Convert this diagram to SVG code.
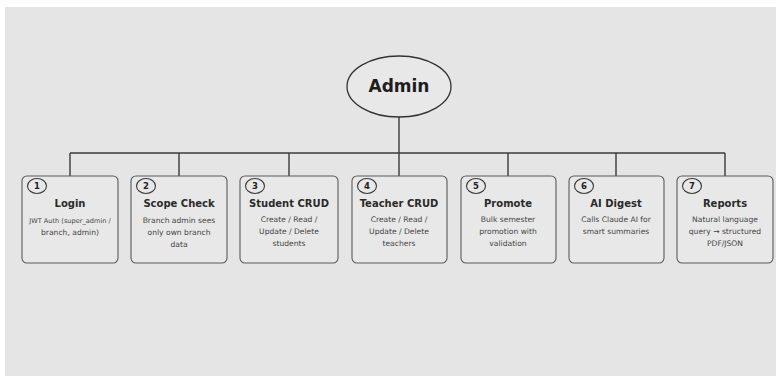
<svg xmlns="http://www.w3.org/2000/svg" width="776" height="376" viewBox="0 0 776 376">
<style>
.bg{fill:#e5e5e5}
.line{stroke:#3a3a3a;stroke-width:1.4;fill:none}
.box{fill:#e8e8e8;stroke:#5a5a5a;stroke-width:1.1}
.num{fill:none;stroke:#3a3a3a;stroke-width:1.1}
.numt{font-family:"DejaVu Sans",sans-serif;font-weight:bold;font-size:8.5px;fill:#222;text-anchor:middle;dominant-baseline:central}
.title{font-family:"DejaVu Sans",sans-serif;font-weight:bold;font-size:10px;fill:#2a2a2a;text-anchor:middle;dominant-baseline:central}
.body{font-family:"DejaVu Sans",sans-serif;font-size:7.6px;fill:#444;text-anchor:middle;dominant-baseline:central}
.small{font-size:6.6px}
</style>
<rect x="0" y="0" width="776" height="376" fill="#ffffff"/>
<rect class="bg" x="5" y="7" width="771" height="369"/>
<g id="connectors">
<line class="line" x1="399" y1="117" x2="399" y2="153"/>
<line class="line" x1="70" y1="153" x2="725" y2="153"/>
<line class="line" x1="70" y1="153" x2="70" y2="176"/>
<line class="line" x1="179" y1="153" x2="179" y2="176"/>
<line class="line" x1="289" y1="153" x2="289" y2="176"/>
<line class="line" x1="399" y1="153" x2="399" y2="176"/>
<line class="line" x1="508" y1="153" x2="508" y2="176"/>
<line class="line" x1="616" y1="153" x2="616" y2="176"/>
<line class="line" x1="725" y1="153" x2="725" y2="176"/>
</g>
<g id="admin">
<ellipse cx="399" cy="86.5" rx="52" ry="30.5" fill="#e8e8e8" stroke="#333" stroke-width="1.3"/>
<text x="399" y="86" font-family="DejaVu Sans,sans-serif" font-weight="bold" font-size="17" fill="#1e1e1e" text-anchor="middle" dominant-baseline="central">Admin</text>
</g>
<g id="n1">
<rect class="box" x="22" y="176" width="96" height="87" rx="5"/>
<ellipse class="num" cx="37" cy="186" rx="9.5" ry="7.5"/><text class="numt" x="37" y="186">1</text>
<text class="title" x="70" y="203">Login</text>
<text class="body small" x="70" y="221">JWT Auth (super_admin /</text>
<text class="body" x="70" y="232">branch, admin)</text>
</g>
<g id="n2">
<rect class="box" x="131" y="176" width="96" height="87" rx="5"/>
<ellipse class="num" cx="146" cy="186" rx="9.5" ry="7.5"/><text class="numt" x="146" y="186">2</text>
<text class="title" x="179" y="203">Scope Check</text>
<text class="body" x="179" y="220">Branch admin sees</text>
<text class="body" x="179" y="232">only own branch</text>
<text class="body" x="179" y="244">data</text>
</g>
<g id="n3">
<rect class="box" x="240" y="176" width="98" height="87" rx="5"/>
<ellipse class="num" cx="255" cy="186" rx="9.5" ry="7.5"/><text class="numt" x="255" y="186">3</text>
<text class="title" x="289" y="203">Student CRUD</text>
<text class="body" x="289" y="219">Create / Read /</text>
<text class="body" x="289" y="231">Update / Delete</text>
<text class="body" x="289" y="243">students</text>
</g>
<g id="n4">
<rect class="box" x="352" y="176" width="95" height="87" rx="5"/>
<ellipse class="num" cx="367" cy="186" rx="9.5" ry="7.5"/><text class="numt" x="367" y="186">4</text>
<text class="title" x="399" y="203">Teacher CRUD</text>
<text class="body" x="399" y="219">Create / Read /</text>
<text class="body" x="399" y="231">Update / Delete</text>
<text class="body" x="399" y="243">teachers</text>
</g>
<g id="n5">
<rect class="box" x="461" y="176" width="95" height="87" rx="5"/>
<ellipse class="num" cx="476" cy="186" rx="9.5" ry="7.5"/><text class="numt" x="476" y="186">5</text>
<text class="title" x="508" y="203">Promote</text>
<text class="body" x="508" y="219">Bulk semester</text>
<text class="body" x="508" y="231">promotion with</text>
<text class="body" x="508" y="243">validation</text>
</g>
<g id="n6">
<rect class="box" x="569" y="176" width="95" height="87" rx="5"/>
<ellipse class="num" cx="584" cy="186" rx="9.5" ry="7.5"/><text class="numt" x="584" y="186">6</text>
<text class="title" x="616" y="203">AI Digest</text>
<text class="body" x="616" y="219">Calls Claude AI for</text>
<text class="body" x="616" y="231">smart summaries</text>
</g>
<g id="n7">
<rect class="box" x="677" y="176" width="96" height="87" rx="5"/>
<ellipse class="num" cx="692" cy="186" rx="9.5" ry="7.5"/><text class="numt" x="692" y="186">7</text>
<text class="title" x="725" y="203">Reports</text>
<text class="body" x="725" y="219">Natural language</text>
<text class="body" x="725" y="231">query → structured</text>
<text class="body" x="725" y="243">PDF/JSON</text>
</g>
</svg>
